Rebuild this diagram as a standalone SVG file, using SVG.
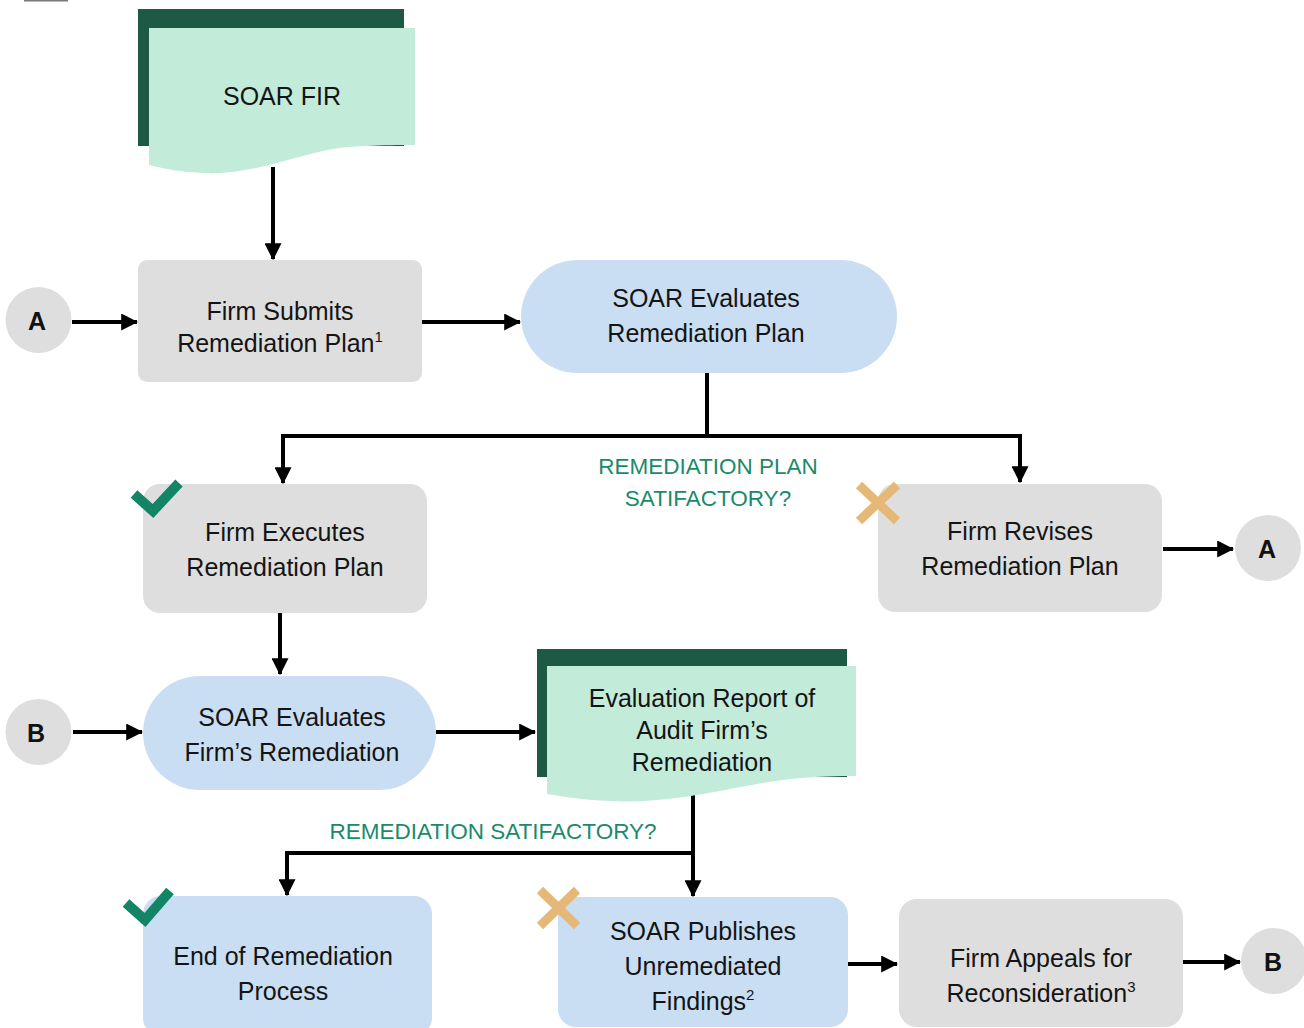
<svg xmlns="http://www.w3.org/2000/svg" width="1304" height="1028" viewBox="0 0 1304 1028">
<defs>
<marker id="arr" markerUnits="userSpaceOnUse" markerWidth="17" markerHeight="17" viewBox="0 0 14 14" refX="13" refY="7" orient="auto">
<path d="M0,0 L14,7 L0,14 Z" fill="#000"/>
</marker>
<style>
.gray{fill:#dedede}
.blue{fill:#c9def2}
.back{fill:#1c5a45}
.front{fill:#c3ebd9}
.t{font-family:"Liberation Sans",Arial,sans-serif;font-size:25px;fill:#141414;text-anchor:middle}
.lab{font-family:"Liberation Sans",Arial,sans-serif;font-size:22.5px;fill:#1b8a6b;text-anchor:middle}
.circ{font-family:"Liberation Sans",Arial,sans-serif;font-size:25px;font-weight:bold;fill:#111;text-anchor:middle}
.c{fill:none;stroke:#000;stroke-width:4}
.ca{fill:none;stroke:#000;stroke-width:4;marker-end:url(#arr)}
.chk{fill:none;stroke:#138466;stroke-width:10}
.x{fill:none;stroke:#e6b877;stroke-width:9}
</style>
</defs>
<rect width="1304" height="1028" fill="#fff"/>
<line x1="24" y1="0.5" x2="68" y2="0.5" stroke="#7a7a7a" stroke-width="2"/>

<g id="connectors">
<path class="ca" d="M273,167 V259"/>
<path class="ca" d="M72,322 H137"/>
<path class="ca" d="M422,322 H520"/>
<path class="ca" d="M707,373 V436 H283 V483"/>
<path class="ca" d="M707,436 H1020 V482"/>
<path class="ca" d="M1163,549 H1233"/>
<path class="ca" d="M280,613 V674"/>
<path class="ca" d="M73,732 H142"/>
<path class="ca" d="M436,732 H535"/>
<path class="ca" d="M693,795 V896"/>
<path class="ca" d="M693,853 H287 V895"/>
<path class="ca" d="M848,964 H897"/>
<path class="ca" d="M1183,962 H1240"/>
</g>

<g id="soar-fir">
<rect class="back" x="138" y="9" width="266" height="137"/>
<path class="front" d="M149,28 H415 V145 C380,145 350,146 333,149 C290,157 250,175 205,173 C180,172 165,169 149,165 Z"/>
<text class="t" x="282" y="105">SOAR FIR</text>
</g>

<g id="conn-a-left">
<circle class="gray" cx="38.5" cy="320" r="33"/>
<text class="circ" x="37" y="330">A</text>
</g>

<g id="firm-submits">
<rect class="gray" x="138" y="260" width="284" height="122" rx="9"/>
<text class="t" x="280" y="320">Firm Submits</text>
<text class="t" x="280" y="352">Remediation Plan<tspan font-size="15" dy="-10">1</tspan></text>
</g>

<g id="soar-evaluates-plan">
<rect class="blue" x="521" y="260" width="376" height="113" rx="56.5"/>
<text class="t" x="706" y="307">SOAR Evaluates</text>
<text class="t" x="706" y="342">Remediation Plan</text>
</g>

<g id="label-plan">
<text class="lab" x="708" y="474">REMEDIATION PLAN</text>
<text class="lab" x="708" y="506">SATIFACTORY?</text>
</g>

<g id="firm-executes">
<rect class="gray" x="143" y="484" width="284" height="129" rx="17"/>
<text class="t" x="285" y="541">Firm Executes</text>
<text class="t" x="285" y="576">Remediation Plan</text>
<path class="chk" d="M134,494 L153,511 L179,483"/>
</g>

<g id="firm-revises">
<rect class="gray" x="878" y="484" width="284" height="128" rx="17"/>
<text class="t" x="1020" y="540">Firm Revises</text>
<text class="t" x="1020" y="575">Remediation Plan</text>
<path class="x" d="M859,485 L897,521 M897,485 L859,521"/>
</g>

<g id="conn-a-right">
<circle class="gray" cx="1268" cy="548" r="33"/>
<text class="circ" x="1267" y="558">A</text>
</g>

<g id="conn-b-left">
<circle class="gray" cx="38.5" cy="732" r="33"/>
<text class="circ" x="36" y="742">B</text>
</g>

<g id="soar-evaluates-remediation">
<rect class="blue" x="143" y="676" width="293" height="114" rx="57"/>
<text class="t" x="292" y="726">SOAR Evaluates</text>
<text class="t" x="292" y="761">Firm’s Remediation</text>
</g>

<g id="evaluation-report">
<rect class="back" x="537" y="649" width="310" height="128"/>
<path class="front" d="M547,666 H856 V776 C800,776 770,781 730,789 C690,797 650,803 610,801 C585,800 565,797 547,794 Z"/>
<text class="t" x="702" y="707">Evaluation Report of</text>
<text class="t" x="702" y="739">Audit Firm’s</text>
<text class="t" x="702" y="771">Remediation</text>
</g>

<g id="label-remediation">
<text class="lab" x="493" y="839">REMEDIATION SATIFACTORY?</text>
</g>

<g id="end-of-remediation">
<rect class="blue" x="143" y="896" width="289" height="140" rx="18"/>
<text class="t" x="283" y="965">End of Remediation</text>
<text class="t" x="283" y="1000">Process</text>
<path class="chk" d="M126,903 L145,920 L170,891"/>
</g>

<g id="soar-publishes">
<rect class="blue" x="558" y="897" width="290" height="130" rx="18"/>
<text class="t" x="703" y="940">SOAR Publishes</text>
<text class="t" x="703" y="975">Unremediated</text>
<text class="t" x="703" y="1010">Findings<tspan font-size="15" dy="-10">2</tspan></text>
<path class="x" d="M540,890 L577,926 M577,890 L540,926"/>
</g>

<g id="firm-appeals">
<rect class="gray" x="899" y="899" width="284" height="128" rx="18"/>
<text class="t" x="1041" y="967">Firm Appeals for</text>
<text class="t" x="1041" y="1002">Reconsideration<tspan font-size="15" dy="-10">3</tspan></text>
</g>

<g id="conn-b-right">
<circle class="gray" cx="1274" cy="961" r="33"/>
<text class="circ" x="1273" y="971">B</text>
</g>
</svg>
